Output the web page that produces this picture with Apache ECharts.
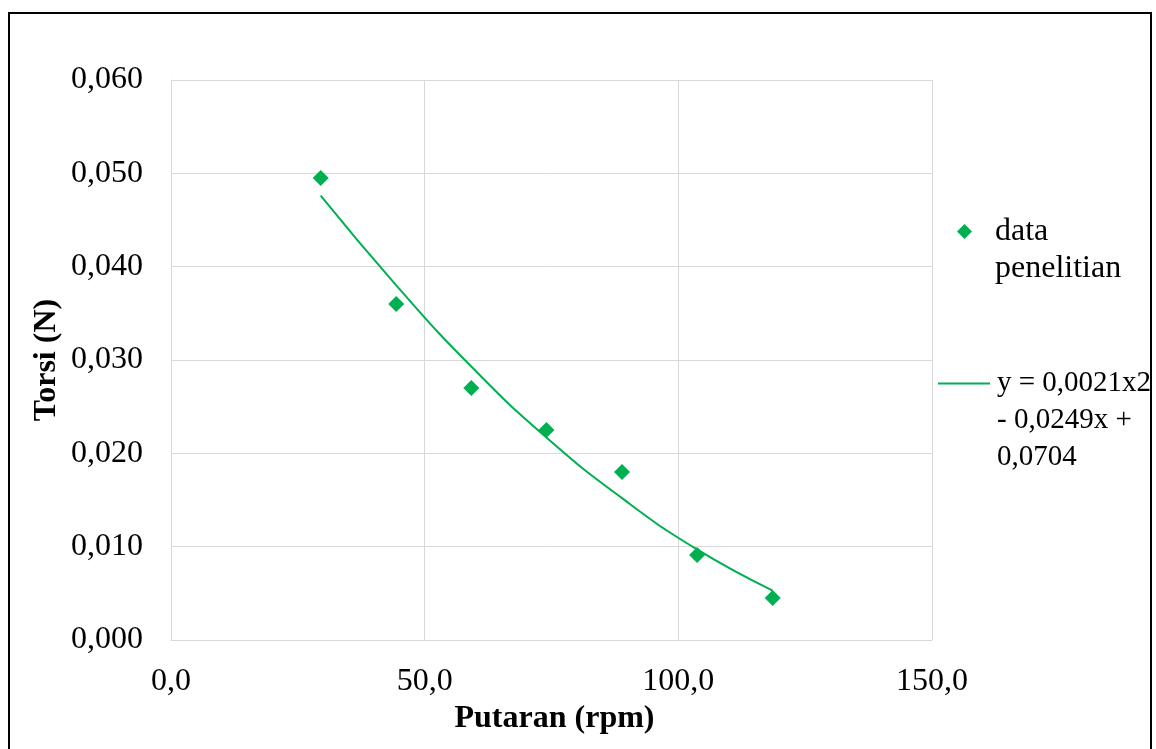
<!DOCTYPE html>
<html>
<head>
<meta charset="utf-8">
<title>Torsi vs Putaran</title>
<script src="https://cdn.jsdelivr.net/npm/echarts@6/dist/echarts.min.js"></script>
<style>
    html, body { margin: 0; padding: 0; background: #fff; }
    #chart { width: 1156px; height: 749px; }
</style>
</head>
<body>
<div id="chart"></div>
<script>
// data penelitian
var putaran = [29.5, 44.4, 59.2, 74.0, 88.9, 103.7, 118.6];
var torsi = [0.0495, 0.0360, 0.0270, 0.0225, 0.0180, 0.0091, 0.0045];
// polynomial trendline, read at the same rpm points
var trendTorsi = [0.0476, 0.0380, 0.0293, 0.0217, 0.0152, 0.0097, 0.0053];
var trendLabel = 'y = 0,0021x2\n- 0,0249x +\n0,0704';
var dataLabel = 'data\npenelitian';
// axis ticks
var xTicks = [0, 50, 100, 150];
var yTicks = [0, 0.01, 0.02, 0.03, 0.04, 0.05, 0.06];

var green = '#00B050';
var font = '"Liberation Serif", "Times New Roman", serif';

var myChart = echarts.init(document.getElementById('chart'));

function pairs(xs, ys) {
    return xs.map(function (x, i) { return [x, ys[i]]; });
}

// Excel puts the legend marker next to the first text line, so pad with empty lines above
function firstLineOnIcon(name) {
    var n = name.split('\n').length;
    return new Array(n).join('\n') + name;
}

var option = {
    backgroundColor: '#fff',
    textStyle: { fontFamily: font, color: '#000' },
    grid: {
        left: 171,
        top: 80,
        right: 224,
        bottom: 109
    },
    graphic: [{
        type: 'rect',
        shape: { x: 9, y: 13, width: 1142, height: 760 },
        style: { fill: 'none', stroke: '#000', lineWidth: 2 },
        silent: true
    }],
    legend: [{
        orient: 'vertical',
        left: 952,
        top: 171,
        itemWidth: 15,
        itemHeight: 15,
        data: [{ name: dataLabel, icon: 'diamond' }],
        formatter: firstLineOnIcon,
        textStyle: {
            fontFamily: font,
            fontSize: 32,
            color: '#000',
            lineHeight: 37,
            padding: [0, 0, 0, 18]
        }
    }, {
        orient: 'vertical',
        left: 933,
        top: 286,
        itemWidth: 52,
        itemHeight: 2,
        data: [{ name: trendLabel, icon: 'rect' }],
        formatter: firstLineOnIcon,
        textStyle: {
            fontFamily: font,
            fontSize: 29,
            color: '#000',
            lineHeight: 37,
            padding: [0, 0, 0, 2]
        }
    }],
    xAxis: {
        type: 'value',
        min: xTicks[0],
        max: xTicks[xTicks.length - 1],
        interval: xTicks[1] - xTicks[0],
        name: 'Putaran (rpm)',
        nameLocation: 'middle',
        nameGap: 63,
        nameTextStyle: { fontFamily: font, fontSize: 32, fontWeight: 'bold', color: '#000', padding: [0, 0, 0, 6] },
        axisLine: { show: true, lineStyle: { color: '#d9d9d9', width: 1 } },
        axisTick: { show: false },
        splitLine: { show: true, lineStyle: { color: '#d9d9d9', width: 1 } },
        axisLabel: {
            fontFamily: font,
            fontSize: 32,
            color: '#000',
            margin: 26,
            formatter: function (v) { return v.toFixed(1).replace('.', ','); }
        }
    },
    yAxis: {
        type: 'value',
        min: yTicks[0],
        max: yTicks[yTicks.length - 1],
        interval: yTicks[1] - yTicks[0],
        name: 'Torsi (N)',
        nameLocation: 'middle',
        nameGap: 108,
        nameMoveOverlap: false,
        nameTextStyle: { fontFamily: font, fontSize: 32, fontWeight: 'bold', color: '#000' },
        axisLine: { show: true, lineStyle: { color: '#d9d9d9', width: 1 } },
        axisTick: { show: false },
        splitLine: { show: true, lineStyle: { color: '#d9d9d9', width: 1 } },
        axisLabel: {
            fontFamily: font,
            fontSize: 32,
            color: '#000',
            margin: 28,
            formatter: function (v) { return v.toFixed(3).replace('.', ','); }
        }
    },
    series: [{
        name: trendLabel,
        type: 'line',
        smooth: true,
        showSymbol: false,
        symbol: 'none',
        lineStyle: { color: green, width: 2 },
        itemStyle: { color: green },
        data: pairs(putaran, trendTorsi),
        z: 2
    }, {
        name: dataLabel,
        type: 'scatter',
        symbol: 'diamond',
        symbolSize: 16,
        itemStyle: { color: green, opacity: 1 },
        data: pairs(putaran, torsi),
        z: 3
    }]
};

myChart.setOption(option);
window.addEventListener('resize', function () {
    myChart.resize();
});
</script>
</body>
</html>
